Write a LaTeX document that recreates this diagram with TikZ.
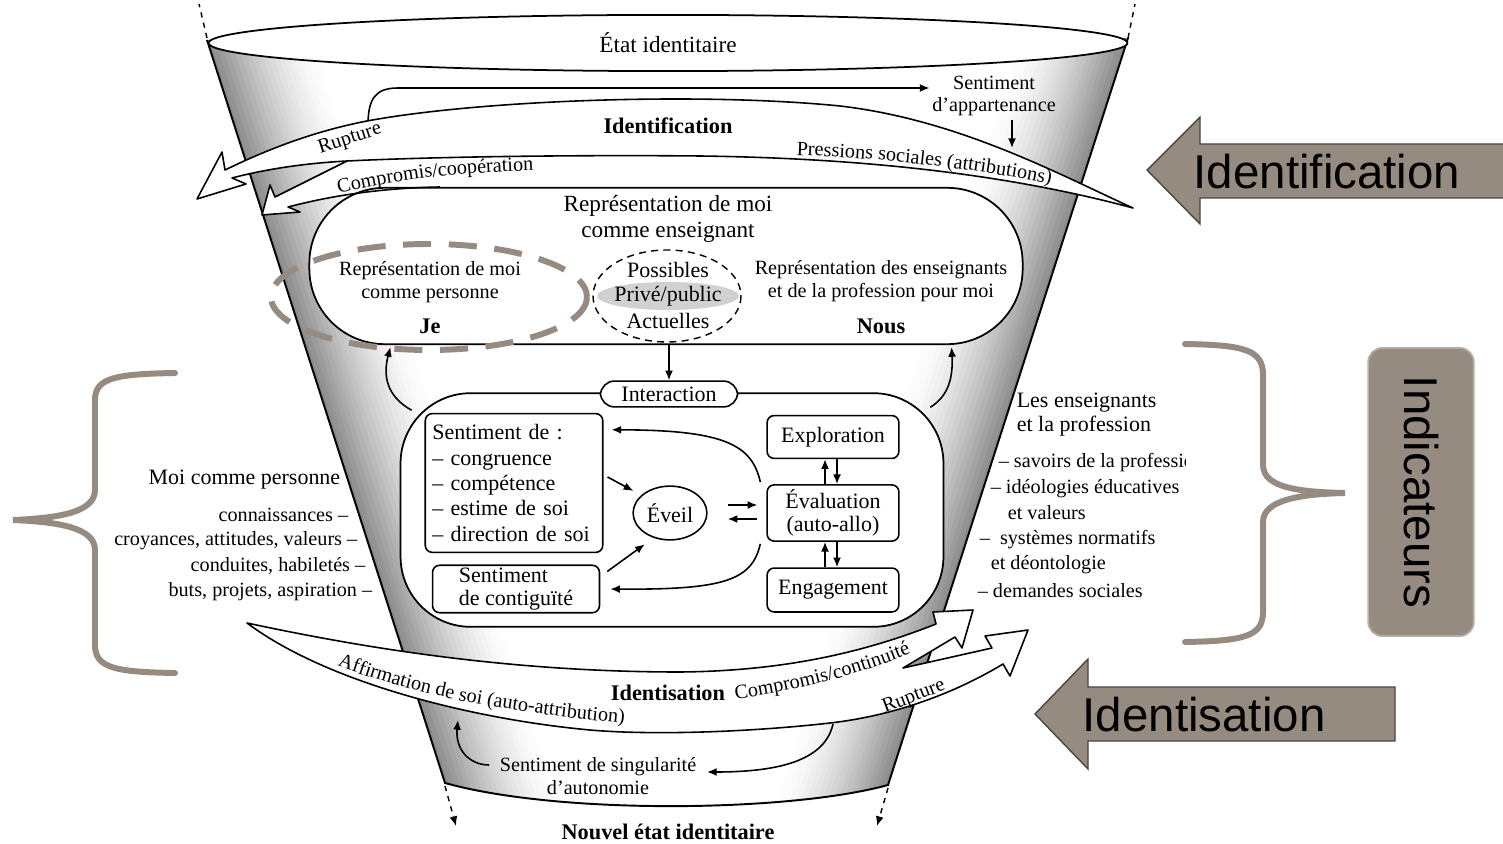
\documentclass[tikz,border=0pt]{standalone}
\usepackage{fontspec}
\setmainfont{Liberation Serif}
\newfontfamily\sansf{Liberation Sans}
\usepackage{xcolor}
\usepackage{tikz}
\usetikzlibrary{shapes,arrows.meta,positioning,calc,decorations.text}
\definecolor{taupe}{RGB}{150,139,129}
\newcommand\lblfont{\fontsize{11.5}{13}\selectfont}

\begin{document}
\begin{tikzpicture}[x=0.02cm, y=-0.02cm, line width=0.9pt,
    >={Latex[length=5.5pt,width=4.5pt]},
    big/.style={font=\fontsize{13.2}{14.8}\selectfont, align=center, inner sep=0pt},
    lbl/.style={font=\lblfont, align=center, inner sep=0pt},
    head/.style={font=\fontsize{12.5}{13.6}\selectfont, align=left, inner sep=0pt},
    ttl/.style={font=\bfseries\fontsize{12.7}{15}\selectfont, inner sep=0pt},
    box/.style={draw, fill=white, rounded corners=4pt, font=\fontsize{12.5}{14.5}\selectfont, align=center, inner sep=3pt},
    band/.style={draw, fill=white, line join=round},
    note/.style={font=\sansf\fontsize{27}{30}\selectfont, inner sep=0pt},
    brace/.style={draw=taupe, line width=3.4pt, line cap=round}]

    % Canvas
    \useasboundingbox (0,0) rectangle (1503,844);
    \fill[white] (0,0) rectangle (1503,844);

    % Funnel body with shaded sides
    \begin{scope}
        \clip (207,40) -- (1128,38) -- (888,785) .. controls (790,812) and (560,815) .. (445,783) -- cycle;
        \foreach \d in {105,100,...,0} {
            \pgfmathsetmacro\shadepct{46*(1-\d/105)^1.6}
            \draw[line width=3.3pt, black!\shadepct] ($(194.2,0)+(0.952*\d,-0.305*\d)$) -- ($(464.5,844)+(0.952*\d,-0.305*\d)$);
            \draw[line width=3.3pt, black!\shadepct] ($(1140.2,0)+(-0.952*\d,-0.306*\d)$) -- ($(869,844)+(-0.952*\d,-0.306*\d)$);
        }
    \end{scope}
    \draw[line width=1.1pt] (207,40) -- (445,783) .. controls (560,815) and (790,812) .. (888,785) -- (1128,38);

    % Dotted continuation of the funnel
    \draw[dashed, line width=0.8pt] (207,38) -- (199,4);
    \draw[dashed, line width=0.8pt] (1128,38) -- (1135,4);
    \draw[dashed, line width=0.8pt, ->] (445,786) -- (456,826);
    \draw[dashed, line width=0.8pt, ->] (888,788) -- (877,826);

    % Top state
    \node[big, draw, ellipse, fill=white, line width=1pt, minimum width=523pt, minimum height=32pt] (etat) at (668,43) {État identitaire};

    % Sentiment d'appartenance
    \node[lbl] (appart) at (994,96) {Sentiment\\d’appartenance};
    \coordinate (app-start) at (368,125);
    \draw[->] (app-start) .. controls (368,98) and (376,88) .. (398,88) -- ($(appart.west)+(-2,-8)$);

    % Lower arrow of the identification band
    \fill[white] (347,161) -- (275,197) -- (270,185) -- (262,215) -- (300,212) -- (288,207) .. controls (330,196) and (380,188) .. (440,187) -- (950,190) -- (950,140) -- (700,140) -- (347,150) -- cycle;

    % Representation of me as a teacher
    \node[draw, fill=white, line width=1pt, rounded corners=43pt, minimum width=406pt, minimum height=89pt] (rep) at (666,266) {};
    \draw[line join=round] (347,161) -- (275,197) -- (270,185) -- (262,215) -- (300,212) -- (288,207) .. controls (330,196) and (380,188) .. (440,187);

    % Upper arrow of the identification band
    \draw[band] (1133,208) .. controls (1060,175) and (960,120) .. (840,106) .. controls (700,92) and (480,100) .. (367,121) .. controls (310,132) and (262,152) .. (225,170) -- (222,152) -- (197,199) -- (246,184) -- (232,178) .. controls (270,168) and (310,163) .. (347,161) .. controls (450,156) and (600,155) .. (700,156) .. controls (850,158) and (1000,172) .. (1133,208) -- cycle;
    \draw[->] ($(appart.south)+(18,3)$) -- ++(0,28);

    % Labels of the identification band
    \node[ttl] (identif) at (668,126) {Identification};
    \node[lbl, rotate=18] (rupt1) at (350,139) {Rupture};
    \path[decorate, decoration={text along path, text align=center, text={|\lblfont|Compromis/coopération}}] (328,197) .. controls (385,180) and (460,172) .. (545,170);
    \path[decorate, decoration={text along path, text align=center, text={|\lblfont|Pressions sociales (attributions)}}] (795,155) .. controls (880,158) and (970,168) .. (1052,184);

    % Contents of the representation
    \node[big] (repl) at (668,219) {Représentation de moi\\comme enseignant};
    \draw[taupe, line width=3.4pt, dash pattern=on 16pt off 10pt] (429,297) ellipse [x radius=158, y radius=53];
    \node[lbl] (pers) at (430,282) {Représentation de moi\\comme personne};
    \node[ttl] (je) at (430,326) {Je};
    \fill[black!18] (668,296) ellipse [x radius=71, y radius=14];
    \draw[dash pattern=on 4pt off 3pt, line width=0.8pt] (667,296) ellipse [x radius=74, y radius=46];
    \node[head, align=center] (poss) at (668,270) {Possibles};
    \node[head, align=center] (prive) at (668,296) {Privé/public};
    \node[head, align=center] (actu) at (668,321) {Actuelles};
    \node[lbl] (profl) at (881,281) {Représentation des enseignants\\et de la profession pour moi};
    \node[ttl] (nous) at (881,326) {Nous};

    % Interaction
    \node[draw, fill=white, line width=1pt, rounded corners=40pt, minimum width=309pt, minimum height=133pt] (inter) at (672,510) {};
    \node[box, rounded corners=8pt, minimum width=78pt, minimum height=14.7pt, inner sep=1pt] (interlbl) at (669,394) {Interaction};
    \draw[->] (interlbl.north |- rep.south) -- (interlbl.north);
    \draw[->] ($(inter.north west)+(12,18)$) .. controls (386,396) and (383,375) .. ($(rep.south west)+(82,2)$);
    \draw[->] ($(inter.north east)+(-14,15)$) .. controls (950,395) and (953,375) .. ($(rep.south east)+(-72,2)$);

    \node[box, align=left, text width=93pt, minimum height=79pt, inner sep=4pt] (sent) at (514,483) {Sentiment de~:\\– congruence\\– compétence\\– estime de soi\\– direction de soi};
    \node[box, align=left, minimum width=95pt, minimum height=27pt, inner sep=1pt, font=\fontsize{12.5}{13}\selectfont] (contig) at (516,589) {Sentiment\\de contiguïté};
    \node[box, ellipse, rounded corners=0pt, minimum width=42pt, minimum height=30.6pt, inner sep=0pt] (eveil) at (670,513) {Éveil};
    \node[box, minimum width=75pt, minimum height=24.4pt] (expl) at (833,437) {Exploration};
    \node[box, minimum width=75pt, minimum height=32pt, inner sep=1pt, font=\fontsize{12.5}{13.5}\selectfont] (eval) at (833,513) {Évaluation\\(auto-allo)};
    \node[box, minimum width=75pt, minimum height=25pt] (engag) at (833,590) {Engagement};

    \draw[->] ($(sent.east)+(4,-6)$) -- ($(eveil.150)+(-7,-5)$);
    \draw[->] ($(contig.north east)+(7,7)$) -- ($(eveil.225)+(-3,9)$);
    \draw[->] ($(eveil.east)+(20,-8)$) -- ($(eval.west)+(-9,-8)$);
    \draw[->] ($(eval.west)+(-9,6)$) -- ($(eveil.east)+(20,6)$);
    \draw[->] ($(eval.north)+(-8,0)$) -- ($(expl.south)+(-8,0)$);
    \draw[->] ($(expl.south)+(4,0)$) -- ($(eval.north)+(4,0)$);
    \draw[->] ($(engag.north)+(-8,0)$) -- ($(eval.south)+(-8,0)$);
    \draw[->] ($(eval.south)+(4,0)$) -- ($(engag.north)+(4,0)$);
    \draw[->] ($(eval.north west)+(-6,-2)$) .. controls (752,445) and (725,430) .. ($(sent.north east)+(8,17)$);
    \draw[->] ($(eval.south west)+(-6,2)$) .. controls (752,580) and (725,590) .. ($(contig.east)+(10,0)$);

    % Me as a person
    \node[head, anchor=east] (moi) at (341,480) {Moi comme personne};
    \node[lbl, anchor=east] (moi1) at (349,515) {connaissances –};
    \node[lbl, anchor=east] (moi2) at (358,541) {croyances, attitudes, valeurs –};
    \node[lbl, anchor=east] (moi3) at (366,566) {conduites, habiletés –};
    \node[lbl, anchor=east] (moi4) at (373,592) {buts, projets, aspiration –};

    % Teachers and the profession
    \node[head, anchor=west] (ens) at (1016,415) {Les enseignants\\et la profession};
    \begin{scope}
        \clip (0,0) rectangle (1185,844);
        \node[lbl, anchor=west] (ens1) at (998,463) {– savoirs de la profession};
        \node[lbl, anchor=west] (ens2) at (990,489) {– idéologies éducatives};
    \end{scope}
    \node[lbl, anchor=west] (ens3) at (1007,513) {et valeurs};
    \node[lbl, anchor=west] (ens4) at (979,540) {–\ \ systèmes normatifs};
    \node[lbl, anchor=west] (ens5) at (990,565) {et déontologie};
    \node[lbl, anchor=west] (ens6) at (977,591) {– demandes sociales};

    % Identisation band
    \draw[band] (247,623) .. controls (350,645) and (500,672) .. (680,672) .. controls (790,671) and (870,650) .. (936,624) -- (933,612) -- (973,610) -- (962,648) -- (955,637) -- (903,668) -- (992,648) -- (985,636) -- (1028,630) -- (1010,676) -- (1003,664) .. controls (960,690) and (900,715) .. (830,723) .. controls (760,731) and (660,736) .. (590,730) .. controls (480,720) and (330,685) .. (247,623) -- cycle;
    \node[ttl] (identis) at (668,693) {Identisation};
    \path[decorate, decoration={text along path, text align=center, text={|\lblfont|Compromis/continuité}}] (728,700) .. controls (790,692) and (860,676) .. (918,650);
    \node[lbl, rotate=21] (rupt2) at (914,697) {Rupture};
    \path[decorate, decoration={text along path, text align=center, text={|\lblfont|Affirmation de soi (auto-attribution)}}] (330,663) .. controls (400,690) and (480,710) .. (632,724);

    % Singularity
    \node[lbl] (sing) at (598,776) {Sentiment de singularité\\d’autonomie};
    \coordinate (band-r) at (833,724);
    \draw[->] ($(sing.west)+(-10,-11)$) .. controls (470,765) and (455,750) .. (458,720);
    \draw[->] (band-r) .. controls (825,760) and (780,772) .. ($(sing.east)+(10,-4)$);

    % New state
    \node[ttl] (nouvel) at (668,832) {Nouvel état identitaire};

    % Annotations
    \draw[fill=taupe, draw=taupe!50!black, line width=0.8pt] (1147,170) -- (1200,117) -- (1200,144) -- (1510,144) -- (1510,198) -- (1200,198) -- (1200,224) -- cycle;
    \node[note, anchor=west] (identn) at (1193,172) {Identification};
    \draw[fill=taupe, draw=taupe!50!black, line width=0.8pt] (1035,714) -- (1088,659) -- (1088,687) -- (1395,687) -- (1395,741) -- (1088,741) -- (1088,769) -- cycle;
    \node[note, anchor=west] (identsn) at (1082,715) {Identisation};
    \node[note, draw=taupe!70!white, fill=taupe, line width=1pt, rounded corners=8pt, minimum width=164pt, minimum height=60pt, rotate=-90] (indic) at (1421,492) {Indicateurs};

    % Braces
    \draw[brace] (1185,344) .. controls (1245,345) and (1263,350) .. (1263,375) -- (1263,465) .. controls (1263,488) and (1300,492) .. (1345,493) .. controls (1300,494) and (1263,500) .. (1263,522) -- (1263,612) .. controls (1263,636) and (1245,641) .. (1185,642);
    \draw[brace] (175,373) .. controls (115,374) and (95,378) .. (95,400) -- (95,490) .. controls (95,512) and (60,518) .. (13,520) .. controls (60,522) and (95,528) .. (95,550) -- (95,645) .. controls (95,668) and (115,672) .. (175,673);
\end{tikzpicture}
\end{document}
